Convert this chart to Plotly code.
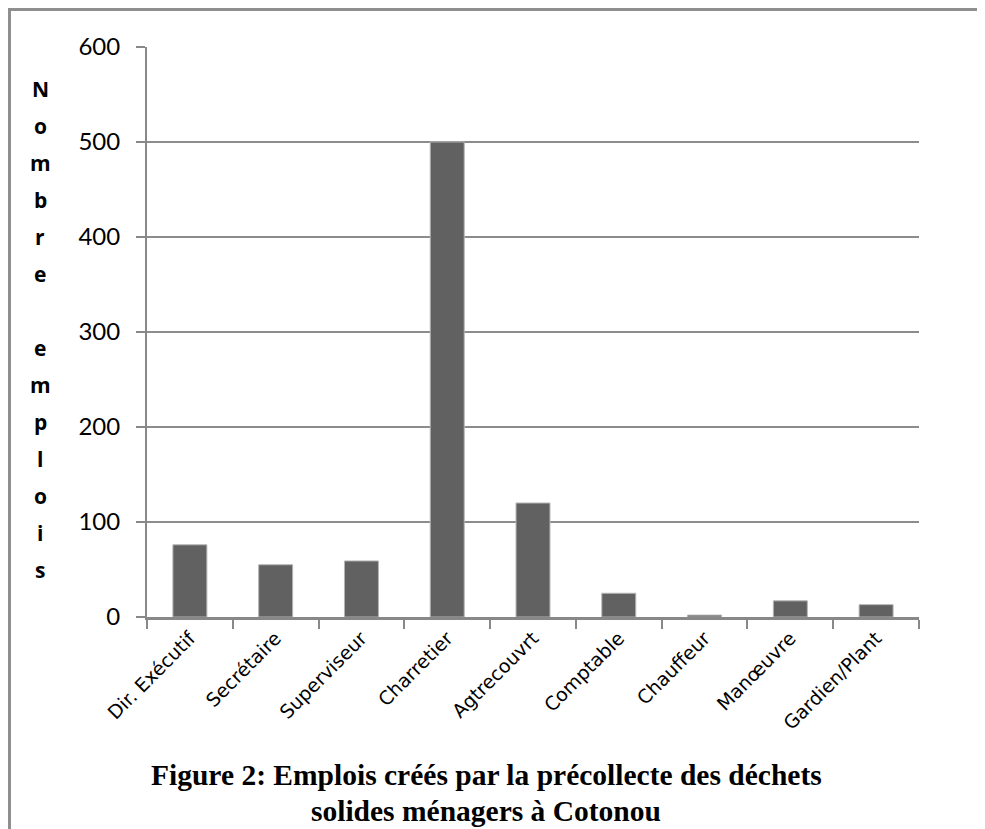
import plotly.graph_objects as go

categories = ["Dir. Exécutif", "Secrétaire", "Superviseur", "Charretier", "Agtrecouvrt",
              "Comptable", "Chauffeur", "Manœuvre", "Gardien/Plant"]
emplois = [76, 55, 59, 500, 120, 25, 2, 17, 13]
y_ticks = [0, 100, 200, 300, 400, 500, 600]
y_title = "Nombre emplois"
title_lines = ["Figure 2: Emplois créés par la précollecte des déchets",
               "solides ménagers à Cotonou"]

OFF = 8  # page body margin
W, H = 985 - OFF, 829 - OFF
# plot area in page pixels: x 147..919, y 47..617
L, R, T, B = 147 - OFF, 985 - 919, 47 - OFF, 829 - 617
pw, ph = W - L - R, H - T - B

def px_x(x):
    return (x - OFF - L) / pw

def px_y(y):
    return (H - B - (y - OFF)) / ph

fig = go.Figure(go.Bar(
    x=categories, y=emplois,
    marker=dict(color="#616161", line=dict(color="#b5b5b5", width=1)),
))

axis_col = "#888888"
fig.update_layout(
    width=W, height=H,
    margin=dict(l=L, r=R, t=T, b=B),
    paper_bgcolor="white", plot_bgcolor="white",
    bargap=0.604,
    showlegend=False,
    font=dict(family="Lato", color="black"),
)
fig.update_xaxes(
    type="category",
    tickson="boundaries",
    ticks="outside", ticklen=9, tickwidth=2, tickcolor=axis_col,
    showline=True, linecolor=axis_col, linewidth=2.5,
    showgrid=False,
    tickangle=-45,
    tickfont=dict(family="DejaVu Sans", size=19, color="black"),
)
fig.update_yaxes(
    range=[0, 600], tickvals=y_ticks,
    ticks="outside", ticklen=9, tickwidth=2, tickcolor=axis_col,
    showline=True, linecolor=axis_col, linewidth=2,
    showgrid=True, gridcolor="#8c8c8c", gridwidth=1.5,
    zeroline=False,
    tickfont=dict(family="Lato", size=24, color="black"),
    ticklabelstandoff=11,
)

annotations = []
# vertical stacked y-axis title
for i, ch in enumerate(y_title):
    if ch == " ":
        continue
    annotations.append(dict(
        text=ch, xref="paper", yref="paper",
        x=px_x(40), y=px_y(89 + i * 37.0),
        xanchor="center", yanchor="middle", showarrow=False,
        font=dict(family="Open Sans", size=21, color="black", weight="bold"),
    ))
# figure caption
for j, line in enumerate(title_lines):
    annotations.append(dict(
        text="<b>" + line + "</b>", xref="paper", yref="paper",
        x=px_x(486), y=px_y(775 + j * 36),
        xanchor="center", yanchor="middle", showarrow=False,
        font=dict(family="Liberation Serif", size=29.5, color="black"),
    ))
fig.update_layout(annotations=annotations)

border = "#8f8f8f"
fig.update_layout(shapes=[
    dict(type="line", xref="paper", yref="paper",
         x0=px_x(9.5), x1=px_x(9.5), y0=px_y(829 + 20), y1=px_y(9.5),
         line=dict(color=border, width=3)),
    dict(type="line", xref="paper", yref="paper",
         x0=px_x(8), x1=px_x(985 + 20), y0=px_y(9.5), y1=px_y(9.5),
         line=dict(color=border, width=3)),
])

fig.write_html("out.html")
